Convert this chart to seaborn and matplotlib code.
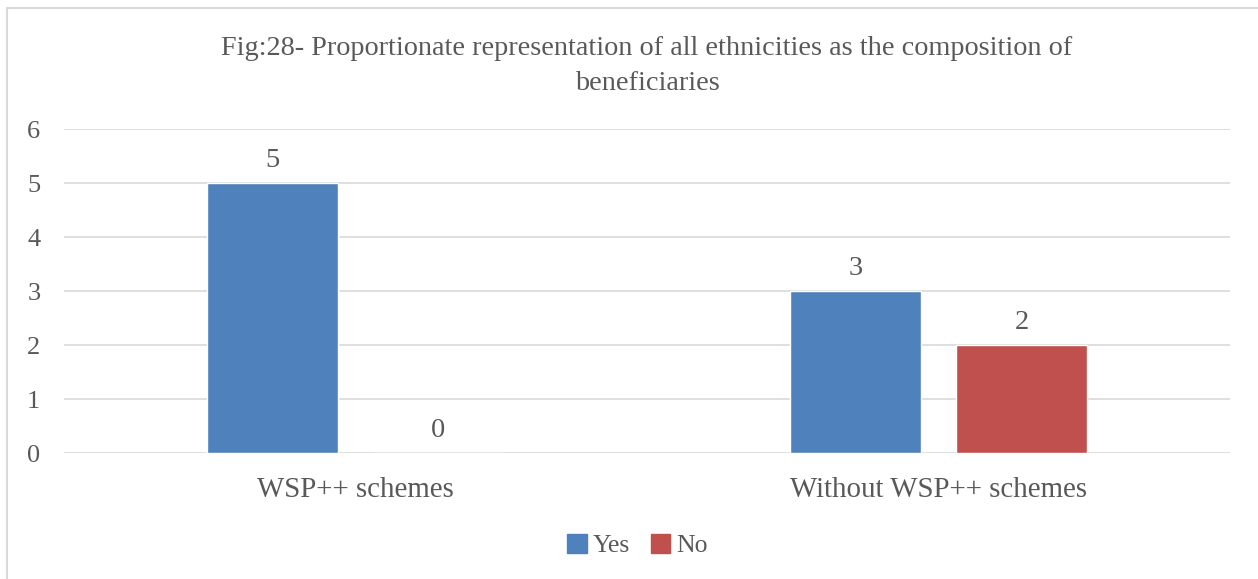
import matplotlib.pyplot as plt
import matplotlib.patches as mpatches
import seaborn as sns
import pandas as pd

# 데이터
categories = ["WSP++ schemes", "Without WSP++ schemes"]
series_names = ["Yes", "No"]
yes_values = [5, 3]
no_values = [0, 2]
colors = ["#4F81BD", "#C0504D"]
title = "Fig:28- Proportionate representation of all ethnicities as the composition of\nbeneficiaries"

df = pd.DataFrame({
    "category": categories * 2,
    "series": [series_names[0]] * len(categories) + [series_names[1]] * len(categories),
    "value": yes_values + no_values,
})

sns.set_style("white")
plt.rcParams['font.family'] = ['Liberation Serif', 'DejaVu Serif']
text_color = "#595959"
grid_color = "#D9D9D9"

fig = plt.figure(figsize=(12.58, 5.79), dpi=100)
ax = fig.add_axes([0.0509, 0.2176, 0.9268, 0.5596])

sns.barplot(data=df, x="category", y="value", hue="series", hue_order=series_names,
            palette=colors, width=0.569, gap=0.211, saturation=1, legend=False, ax=ax)

ax.set_ylim(0, 6)
ax.set_yticks(range(0, 7))
ax.set_xlim(-0.5, 1.5)
ax.grid(axis="y", color=grid_color, linewidth=1.2)
ax.set_axisbelow(True)
for s in ax.spines.values():
    s.set_visible(False)
ax.tick_params(axis="both", length=0, colors=text_color)
ax.tick_params(axis="y", pad=17, labelsize=19)
ax.tick_params(axis="x", pad=17, labelsize=20.8)
ax.set_xlabel("")
ax.set_ylabel("")

# 데이터 레이블
for cont in ax.containers:
    ax.bar_label(cont, fmt="%g", padding=7, fontsize=20.5, color=text_color)

ax.set_title(title, fontsize=20.3, color=text_color, pad=28, linespacing=1.55)

handles = [mpatches.Patch(color=c, label=n) for c, n in zip(colors, series_names)]
fig.legend(handles=handles, loc="center", bbox_to_anchor=(0.507, 0.058), ncol=2,
           frameon=False, fontsize=18.5, labelcolor=text_color,
           handlelength=0.75, handleheight=0.75, handletextpad=0.25, columnspacing=0.8)

# 차트 테두리
fig.patches.append(mpatches.Rectangle((7 / 1258, -0.05), 1.1, 1 - 8 / 579 + 0.05,
                                      transform=fig.transFigure, fill=False,
                                      edgecolor=grid_color, linewidth=1.5))

fig.savefig("out.png", dpi=100)
